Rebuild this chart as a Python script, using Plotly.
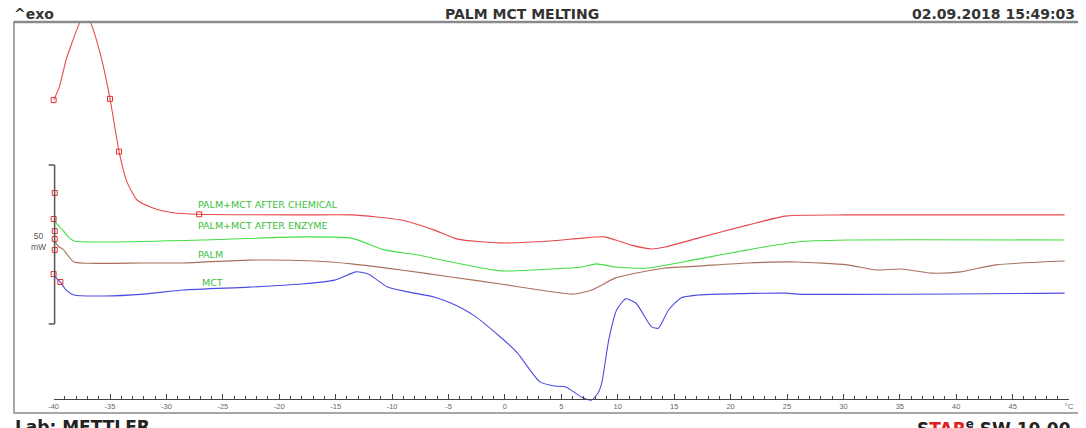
import plotly.graph_objects as go

# ---- data (temperature in °C, heat flow in mW, curves offset as in the picture) ----
chem_T = [-40.0, -39.5, -38.9, -38.5, -37.7, -37.2, -36.7, -35.8, -35.0, -34.2, -33.5, -32.6,
          -31.2, -29.4, -27.1, -18.0, -13.6, -9.2, -6.3, -4.2, -0.4, 4.0, 6.8, 8.8, 9.8,
          11.2, 13.0, 14.2, 17.1, 21.5, 25.0, 30.3, 49.6]
chem_mW = [94.3, 98.4, 106.9, 111.1, 118.6, 122.5, 118.6, 108.0, 94.7, 78.1, 68.6, 62.9,
           60.4, 58.9, 58.4, 58.2, 58.2, 56.6, 53.5, 50.6, 49.4, 50.0, 50.9, 51.3, 50.3,
           48.7, 47.5, 48.1, 50.9, 55.0, 57.9, 58.2, 58.2]

enz_T = [-40.0, -39.7, -39.2, -38.7, -38.2, -35.6, -26.8, -18.0, -13.6, -10.7, -7.7, -4.8,
         -0.4, 2.5, 6.8, 8.1, 9.8, 12.7, 17.1, 21.5, 25.9, 30.3, 49.6]
enz_mW = [56.9, 55.3, 53.5, 51.3, 50.0, 49.7, 50.3, 51.3, 50.9, 47.2, 45.6, 43.4,
          40.6, 40.9, 41.8, 42.8, 41.8, 41.5, 44.3, 47.2, 49.7, 50.3, 50.3]

palm_T = [-40.0, -39.5, -39.2, -38.7, -38.2, -32.0, -28.5, -22.7, -16.9, -13.6, -9.2, -4.8,
          -0.4, 2.5, 6.0, 7.7, 9.8, 11.2, 14.2, 17.1, 21.5, 25.9, 30.3, 32.9, 35.1, 37.8,
          40.4, 43.5, 49.6]
palm_mW = [50.3, 48.1, 47.5, 45.3, 43.4, 43.1, 43.1, 44.0, 43.7, 42.8, 40.9, 38.7,
           36.5, 34.9, 33.3, 34.6, 38.4, 39.6, 41.5, 42.1, 43.1, 43.4, 42.5, 40.9, 41.2, 39.9,
           40.3, 42.5, 43.7]

mct_T = [-40.0, -39.7, -39.4, -38.9, -38.2, -35.6, -32.0, -28.5, -22.7, -18.0, -15.1, -13.2,
         -12.1, -10.4, -8.6, -6.3, -4.8, -2.8, -0.4, 1.1, 3.1, 4.4, 5.4, 6.8, 7.7, 8.3,
         8.6, 9.2, 9.9, 10.7, 11.6, 13.0, 13.6, 14.5, 15.6, 17.1, 18.9, 25.0, 25.9, 49.6]
mct_mW = [39.6, 38.1, 37.1, 34.6, 33.0, 32.7, 33.3, 34.6, 35.5, 36.5, 37.7, 40.3,
          39.6, 35.5, 34.0, 32.4, 30.5, 26.7, 19.8, 14.8, 5.7, 4.4, 4.1, 0.9, 0.0, 2.5,
          5.7, 18.9, 28.3, 31.8, 30.5, 23.0, 22.6, 28.3, 32.1, 33.0, 33.3, 33.6, 33.3, 33.6]

labels = ["PALM+MCT AFTER CHEMICAL", "PALM+MCT AFTER ENZYME", "PALM", "MCT"]
colors = ["#e8484c", "#44dd44", "#a8705c", "#4c4ce0"]

# evaluation markers
mark_T = [-40.0, -35.0, -34.2, -27.1, -40.0, -40.0, -39.4, -39.9, -39.9, -39.9, -39.9]
mark_mW = [94.3, 94.7, 78.1, 58.4, 56.9, 39.6, 37.1, 65.1, 53.1, 50.6, 47.2]

scale_bottom, scale_len = 23.9, 50.0
x_ticks = list(range(-40, 51, 5))

# page body keeps an 8 px margin, so the figure is drawn 8 px smaller and offset
OFF = 8
W, H = 1086 - OFF, 428 - OFF
PLOT_H = 413 - 22


def px(x):
    return (x - OFF) / W


def py(y):
    return (413 - y) / PLOT_H


fig = go.Figure()
series = [(chem_T, chem_mW), (enz_T, enz_mW), (palm_T, palm_mW), (mct_T, mct_mW)]
for (T, Y), name, c in zip(series, labels, colors):
    fig.add_trace(go.Scatter(x=T, y=Y, mode="lines", name=name,
                             line=dict(color=c, width=1.1, shape="spline", smoothing=0.6),
                             hoverinfo="skip", showlegend=False))
fig.add_trace(go.Scatter(x=mark_T, y=mark_mW, mode="markers", cliponaxis=False,
                         marker=dict(symbol="square-open", size=5, color="#e03030",
                                     line=dict(width=1, color="#e03030")),
                         hoverinfo="skip", showlegend=False))

label_pos = [(-27.4, 61.6), (-27.4, 55.0), (-27.4, 45.6), (-27.0, 36.9)]
ann = []
for (lx, ly), t in zip(label_pos, labels):
    ann.append(dict(x=lx, y=ly, xref="x", yref="y", text=t, showarrow=False,
                    xanchor="left", yanchor="middle",
                    font=dict(family="DejaVu Sans, Arial", size=9.5, color="#3cc03c")))
ann.append(dict(x=px(34), y=scale_bottom + scale_len / 2 + 1, xref="paper", yref="y",
                text="50<br>mW", showarrow=False, xanchor="center", yanchor="middle",
                align="center",
                font=dict(family="Liberation Sans, Arial", size=8.5, color="#555")))
hdr = dict(family="DejaVu Sans, Arial", size=14, color="#333")
ann.append(dict(x=px(7), y=py(14), xref="paper", yref="paper", text="<b>^exo</b>",
                showarrow=False, xanchor="left", yanchor="middle", font=hdr))
ann.append(dict(x=px(522), y=py(14), xref="paper", yref="paper",
                text="<b>PALM MCT MELTING</b>",
                showarrow=False, xanchor="center", yanchor="middle", font=hdr))
ann.append(dict(x=px(1082), y=py(14), xref="paper", yref="paper",
                text="<b>02.09.2018 15:49:03</b>",
                showarrow=False, xanchor="right", yanchor="middle", font=hdr))
bot = dict(family="DejaVu Sans, Arial", size=17, color="#222")
ann.append(dict(x=px(8), y=0, xref="paper", yref="paper", text="<b>Lab: METTLER</b>",
                showarrow=False, xanchor="left", yanchor="top", yshift=-2, font=bot))
ann.append(dict(x=px(1078), y=0, xref="paper", yref="paper",
                text="<b>S<span style='color:#e02020'>TAR</span><sup>e</sup> SW 10.00</b>",
                showarrow=False, xanchor="right", yanchor="top", yshift=-2, font=bot))

shapes = [
    dict(type="rect", xref="paper", yref="paper", x0=px(9), x1=px(1084), y0=0, y1=1,
         line=dict(color="#8a8a8a", width=1.5)),
    dict(type="line", xref="paper", yref="paper", x0=px(9), x1=px(1084), y0=1, y1=1,
         line=dict(color="#8a8a8a", width=2.5)),
    dict(type="line", xref="paper", yref="y", x0=px(50), x1=px(50),
         y0=scale_bottom, y1=scale_bottom + scale_len, line=dict(color="#555", width=1.5)),
    dict(type="line", xref="paper", yref="y", x0=px(44), x1=px(50),
         y0=scale_bottom, y1=scale_bottom, line=dict(color="#555", width=1.5)),
    dict(type="line", xref="paper", yref="y", x0=px(44), x1=px(50),
         y0=scale_bottom + scale_len, y1=scale_bottom + scale_len,
         line=dict(color="#555", width=1.5)),
]

fig.update_layout(
    width=W, height=H, margin=dict(l=0, r=0, t=22 - OFF, b=428 - 413),
    paper_bgcolor="white", plot_bgcolor="white",
    xaxis=dict(domain=[px(49), px(1074)], range=[-40, 50], anchor="free", position=py(399),
               showline=True, linecolor="#444", linewidth=1, ticks="inside", ticklen=5,
               tickcolor="#444", tickmode="array", tickvals=x_ticks,
               ticktext=[str(v) for v in x_ticks[:-1]] + ["°C"],
               tickfont=dict(family="Liberation Sans, Arial", size=7.5, color="#666"),
               showgrid=False, zeroline=False,
               minor=dict(tickmode="linear", tick0=0, dtick=1, ticks="inside", ticklen=3,
                          tickcolor="#444", showgrid=False)),
    yaxis=dict(domain=[0, 1], range=[-4.09, 118.87], visible=False, fixedrange=True),
    annotations=ann, shapes=shapes,
)
fig.write_html("out.html")
